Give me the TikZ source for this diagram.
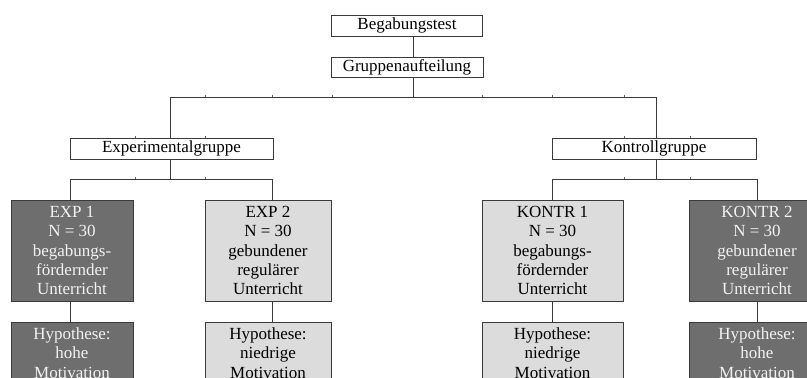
\documentclass[tikz,border=0pt]{standalone}
\usepackage{fontspec}
\setmainfont{Liberation Serif}
\definecolor{darkfill}{HTML}{6E6E6E}
\definecolor{lightfill}{HTML}{DCDCDC}
\definecolor{linecol}{HTML}{3A3A3A}
\definecolor{lighttext}{HTML}{F2F2F2}
\begin{document}
\begin{tikzpicture}[x=1pt,y=-1pt,
  every node/.style={font=\fontsize{17}{19.2}\selectfont, inner sep=0pt, align=center},
  plainbox/.style={draw=linecol, line width=0.9pt, fill=white},
  darkbox/.style={draw=linecol, line width=0.9pt, fill=darkfill, text=lighttext},
  lightbox/.style={draw=linecol, line width=0.9pt, fill=lightfill, text=black},
  conn/.style={draw=linecol, line width=0.9pt},
  tickmark/.style={draw=linecol!80, line width=0.6pt}]
\fill[white] (0,0) rectangle (807,378);
\clip (0,0) rectangle (807,378);
\useasboundingbox (0,0) rectangle (807,378);

% top boxes
\node[plainbox, minimum width=151pt, minimum height=21pt] (beg) at (407,25.5) {Begabungstest};
\node[plainbox, minimum width=152pt, minimum height=20pt] (grp) at (407,67) {Gruppenaufteilung};
\coordinate (trunk) at (413,97);
\coordinate (hl) at (170,97);
\coordinate (hr) at (656,97);

% group boxes
\node[plainbox, minimum width=203pt, minimum height=21pt] (exp) at (171.5,148.5) {Experimentalgruppe};
\node[plainbox, minimum width=204pt, minimum height=21pt] (kon) at (654,148.5) {Kontrollgruppe};
\coordinate (bl) at (170,179);
\coordinate (bl1) at (70,179);
\coordinate (bl2) at (272,179);
\coordinate (br) at (656,179);
\coordinate (br1) at (552,179);
\coordinate (br2) at (757,179);

% condition boxes
\node[darkbox, minimum width=122pt, minimum height=101pt] (e1) at (72,250.5) {EXP 1\\N = 30\\begabungs-\\fördernder\\Unterricht};
\node[lightbox, minimum width=126pt, minimum height=101pt] (e2) at (268,250.5) {EXP 2\\N = 30\\gebundener\\regulärer\\Unterricht};
\node[lightbox, minimum width=141pt, minimum height=101pt] (k1) at (552.5,250.5) {KONTR 1\\N = 30\\begabungs-\\fördernder\\Unterricht};
\node[darkbox, minimum width=136pt, minimum height=101pt] (k2) at (757,250.5) {KONTR 2\\N = 30\\gebundener\\regulärer\\Unterricht};

% hypothesis boxes
\node[darkbox, minimum width=122pt, anchor=north, inner ysep=5.5pt, text depth=60pt] (h1) at (72,322) {Hypothese:\\hohe\\Motivation};
\node[lightbox, minimum width=126pt, anchor=north, inner ysep=5.5pt, text depth=60pt] (h2) at (268,322) {Hypothese:\\niedrige\\Motivation};
\node[lightbox, minimum width=141pt, anchor=north, inner ysep=5.5pt, text depth=60pt] (h3) at (552.5,322) {Hypothese:\\niedrige\\Motivation};
\node[darkbox, minimum width=136pt, anchor=north, inner ysep=5.5pt, text depth=60pt] (h4) at (757,322) {Hypothese:\\hohe\\Motivation};

% connectors
\draw[conn] (beg.south -| trunk) -- (grp.north -| trunk);
\draw[conn] (grp.south -| trunk) -- (trunk);
\draw[conn] (hl) -- (hr);
\draw[conn] (hl) -- (exp.north -| hl);
\draw[conn] (hr) -- (kon.north -| hr);
\draw[conn] (exp.south -| bl) -- (bl);
\draw[conn] (kon.south -| br) -- (br);
\draw[conn] (bl1) -- (bl2);
\draw[conn] (br1) -- (br2);
\draw[conn] (bl1) -- (e1.north -| bl1);
\draw[conn] (bl2) -- (e2.north -| bl2);
\draw[conn] (br1) -- (k1.north -| br1);
\draw[conn] (br2) -- (k2.north -| br2);
\draw[conn] (e1.south -| bl1) -- (h1.north -| bl1);
\draw[conn] (e2.south -| bl2) -- (h2.north -| bl2);
\draw[conn] (k1.south -| br1) -- (h3.north -| br1);
\draw[conn] (k2.south -| br2) -- (h4.north -| br2);

% small table-border ticks
\foreach \tx in {205,272,332,482,552,624} {\draw[tickmark] (\tx,94.5) -- (\tx,97);}
\foreach \tx in {135,205} {\draw[tickmark] (\tx,135.5) -- (\tx,138); \draw[tickmark] (\tx,176.5) -- (\tx,179);}
\foreach \tx in {624,690} {\draw[tickmark] (\tx,135.5) -- (\tx,138); \draw[tickmark] (\tx,176.5) -- (\tx,179);}
\end{tikzpicture}
\end{document}
